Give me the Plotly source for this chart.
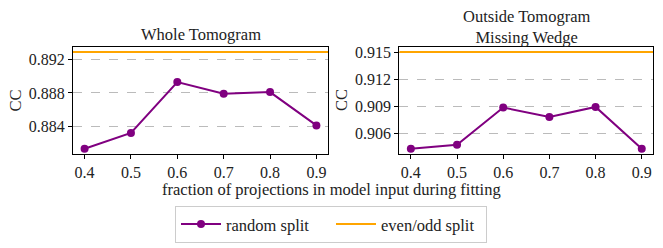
import plotly.graph_objects as go

fractions = [0.4, 0.5, 0.6, 0.7, 0.8, 0.9]
whole_random = [0.8813, 0.8832, 0.8893, 0.8879, 0.8881, 0.8841]
whole_evenodd = 0.8929
outside_random = [0.90436, 0.9048, 0.9089, 0.90785, 0.90896, 0.90436]
outside_evenodd = 0.9150
x_ticks = [0.4, 0.5, 0.6, 0.7, 0.8, 0.9]
whole_yticks = [0.884, 0.888, 0.892]
outside_yticks = [0.906, 0.909, 0.912, 0.915]

PURPLE = "#800080"
ORANGE = "#FFA500"
FONT = "Liberation Serif"
FS = 16.5
TFS = 16

fig = go.Figure()

def add_panel(xref, yref, yvals, hline, show):
    fig.add_trace(go.Scatter(x=fractions, y=yvals, mode="lines+markers",
                             line=dict(color=PURPLE, width=2),
                             marker=dict(color=PURPLE, size=8),
                             name="random split", showlegend=show,
                             xaxis=xref, yaxis=yref))
    fig.add_trace(go.Scatter(x=[0.375, 0.925], y=[hline, hline], mode="lines",
                             line=dict(color=ORANGE, width=2),
                             name="even/odd split", showlegend=show,
                             xaxis=xref, yaxis=yref))

add_panel("x", "y", whole_random, whole_evenodd, True)
add_panel("x2", "y2", outside_random, outside_evenodd, False)

ydom = [1 - 152 / 248, 1 - 44 / 248]
common_x = dict(range=[0.375, 0.925], tickvals=x_ticks,
                ticktext=[f"{v:.1f}" for v in x_ticks],
                showgrid=False, zeroline=False, showline=True, mirror=True,
                linecolor="black", linewidth=1.2, ticks="outside", ticklen=4,
                tickcolor="black", tickfont=dict(family=FONT, size=TFS, color="#222"))
common_y = dict(showgrid=True, gridcolor="#bbbbbb", griddash="dash", gridwidth=1,
                zeroline=False, showline=True, mirror=True, linecolor="black",
                linewidth=1.2, ticks="outside", ticklen=4, tickcolor="black",
                tickfont=dict(family=FONT, size=TFS, color="#222"))

fig.update_layout(
    width=663, height=248,
    margin=dict(l=0, r=0, t=0, b=0),
    paper_bgcolor="white", plot_bgcolor="white",
    xaxis=dict(domain=[73 / 663, 328 / 663], anchor="y", **common_x),
    yaxis=dict(domain=ydom, anchor="x", range=[0.88072, 0.89348],
               tickvals=whole_yticks, ticktext=[f"{v:.3f}" for v in whole_yticks],
               **common_y),
    xaxis2=dict(domain=[399.3 / 663, 653.3 / 663], anchor="y2", **common_x),
    yaxis2=dict(domain=ydom, anchor="x2", range=[0.90383, 0.91553],
                tickvals=outside_yticks, ticktext=[f"{v:.3f}" for v in outside_yticks],
                **common_y),
    legend=dict(orientation="h", x=331 / 663, y=1 - 224 / 248,
                xanchor="center", yanchor="middle",
                bordercolor="#cccccc", borderwidth=1, bgcolor="white",
                font=dict(family=FONT, size=FS, color="#222"),
                itemwidth=40, entrywidth=100, tracegroupgap=0),
)

ann = dict(showarrow=False, font=dict(family=FONT, size=FS, color="#222"),
           xref="paper", yref="paper")
fig.add_annotation(text="Whole Tomogram", x=200.5 / 663, y=1 - 31 / 248,
                   xanchor="center", yanchor="middle", **ann)
fig.add_annotation(text="Outside Tomogram<br>Missing Wedge", x=526 / 663,
                   y=1 - 23.5 / 248, xanchor="center", yanchor="middle", **ann)
fig.add_annotation(text="CC", x=15 / 663, y=1 - 98 / 248, textangle=-90,
                   xanchor="center", yanchor="middle", **ann)
fig.add_annotation(text="CC", x=341.7 / 663, y=1 - 98 / 248, textangle=-90,
                   xanchor="center", yanchor="middle", **ann)
fig.add_annotation(text="fraction of projections in model input during fitting",
                   x=331 / 663, y=1 - 189 / 248, xanchor="center", yanchor="middle", **ann)

fig.write_html("out.html", config={"displayModeBar": False},
               post_script="document.body.style.margin='0';document.body.style.overflow='hidden';")
